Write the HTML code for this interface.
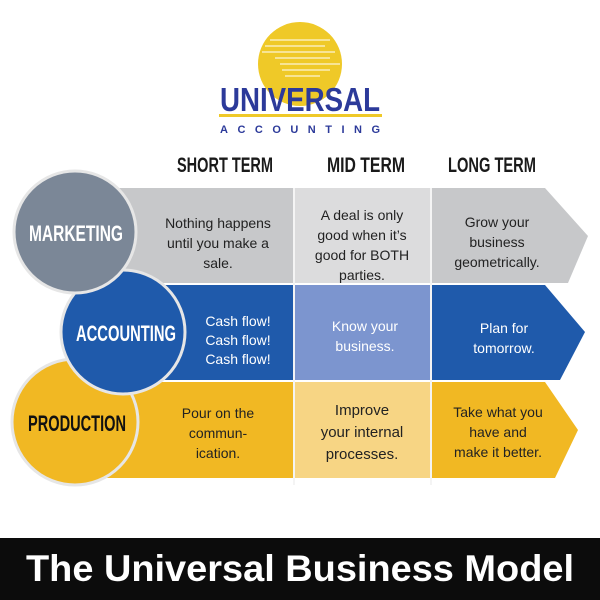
<!DOCTYPE html>
<html><head><meta charset="utf-8"><style>
html,body{margin:0;padding:0;background:#fff;width:600px;height:600px;overflow:hidden}
</style></head><body>
<svg width="600" height="600" viewBox="0 0 600 600" xmlns="http://www.w3.org/2000/svg">
<defs><clipPath id="g"><circle cx="300" cy="64" r="42"/></clipPath></defs>
<circle cx="300" cy="64" r="42" fill="#efc928"/>
<g clip-path="url(#g)" stroke="#fff" stroke-width="1.2" opacity="0.8">
<line x1="270" y1="40" x2="330" y2="40"/><line x1="265" y1="46" x2="325" y2="46"/>
<line x1="262" y1="52" x2="335" y2="52"/><line x1="275" y1="58" x2="330" y2="58"/>
<line x1="280" y1="64" x2="340" y2="64"/><line x1="282" y1="70" x2="330" y2="70"/>
<line x1="285" y1="76" x2="320" y2="76"/>
</g>
<text x="300" y="111" text-anchor="middle" font-family="Liberation Sans" font-weight="bold" font-size="33" fill="#2c3a9a" textLength="160" lengthAdjust="spacingAndGlyphs">UNIVERSAL</text>
<rect x="219" y="114" width="163" height="3" fill="#efc928"/>
<text x="300" y="133" text-anchor="middle" font-family="Liberation Sans" font-weight="bold" font-size="11" fill="#2c3a9a" textLength="160" lengthAdjust="spacing">ACCOUNTING</text>
<g font-family="Liberation Sans" font-weight="bold" font-size="21" fill="#1a1a1a" text-anchor="middle">
<text x="225" y="172" textLength="96" lengthAdjust="spacingAndGlyphs">SHORT TERM</text>
<text x="366" y="172" textLength="78" lengthAdjust="spacingAndGlyphs">MID TERM</text>
<text x="492" y="172" textLength="88" lengthAdjust="spacingAndGlyphs">LONG TERM</text>
</g>
<polygon points="110,188 545,188 588,236 568,283 110,283" fill="#c7c8ca"/>
<rect x="295" y="188" width="136" height="95" fill="#dcdcdd"/>
<polygon points="150,285 545,285 585,332 560,380 150,380" fill="#1f5aab"/>
<rect x="295" y="285" width="136" height="95" fill="#7c95cf"/>
<polygon points="100,382 545,382 578,430 555,478 100,478" fill="#f1b823"/>
<rect x="295" y="382" width="136" height="96" fill="#f7d584"/>
<g stroke="#f4f4f4" stroke-width="2"><line x1="294" y1="188" x2="294" y2="485"/><line x1="431" y1="188" x2="431" y2="485"/></g>
<circle cx="75" cy="422" r="63" fill="#f1b823" stroke="#e6e6e6" stroke-width="3"/>
<circle cx="123" cy="332" r="62" fill="#1f5aab" stroke="#e6e6e6" stroke-width="3"/>
<circle cx="75" cy="232" r="61" fill="#7b8797" stroke="#e6e6e6" stroke-width="3"/>
<g font-family="Liberation Sans" font-weight="bold" font-size="22" text-anchor="middle">
<text x="76" y="241" fill="#fff" textLength="94" lengthAdjust="spacingAndGlyphs">MARKETING</text>
<text x="126" y="341" fill="#fff" textLength="100" lengthAdjust="spacingAndGlyphs">ACCOUNTING</text>
<text x="77" y="431" fill="#111" textLength="98" lengthAdjust="spacingAndGlyphs">PRODUCTION</text>
</g>
<g font-family="Liberation Sans, sans-serif" font-size="14" text-anchor="middle" fill="#222">
<text x="218" y="228">Nothing happens</text>
<text x="218" y="248">until you make a</text>
<text x="218" y="268">sale.</text>
<text x="362" y="220">A deal is only</text>
<text x="362" y="240">good when it’s</text>
<text x="362" y="260">good for BOTH</text>
<text x="362" y="280">parties.</text>
<text x="497" y="227">Grow your</text>
<text x="497" y="247">business</text>
<text x="497" y="267">geometrically.</text>
<text x="218" y="418">Pour on the</text>
<text x="218" y="438">commun-</text>
<text x="218" y="458">ication.</text>
<text x="498" y="417">Take what you</text>
<text x="498" y="437">have and</text>
<text x="498" y="457">make it better.</text>
</g>
<g font-family="Liberation Sans, sans-serif" font-size="15" text-anchor="middle" fill="#222">
<text x="362" y="415">Improve</text>
<text x="362" y="437">your internal</text>
<text x="362" y="459">processes.</text>
</g>
<g font-family="Liberation Sans, sans-serif" font-size="14" text-anchor="middle" fill="#fff">
<text x="238" y="326">Cash flow!</text>
<text x="238" y="345">Cash flow!</text>
<text x="238" y="364">Cash flow!</text>
<text x="365" y="331">Know your</text>
<text x="365" y="351">business.</text>
<text x="504" y="333">Plan for</text>
<text x="504" y="353">tomorrow.</text>
</g>
<rect x="0" y="538" width="600" height="62" fill="#0c0c0c"/>
<text x="300" y="581" text-anchor="middle" font-family="Liberation Sans" font-weight="bold" font-size="37" fill="#fff" textLength="548" lengthAdjust="spacingAndGlyphs">The Universal Business Model</text>
</svg>
</body></html>
